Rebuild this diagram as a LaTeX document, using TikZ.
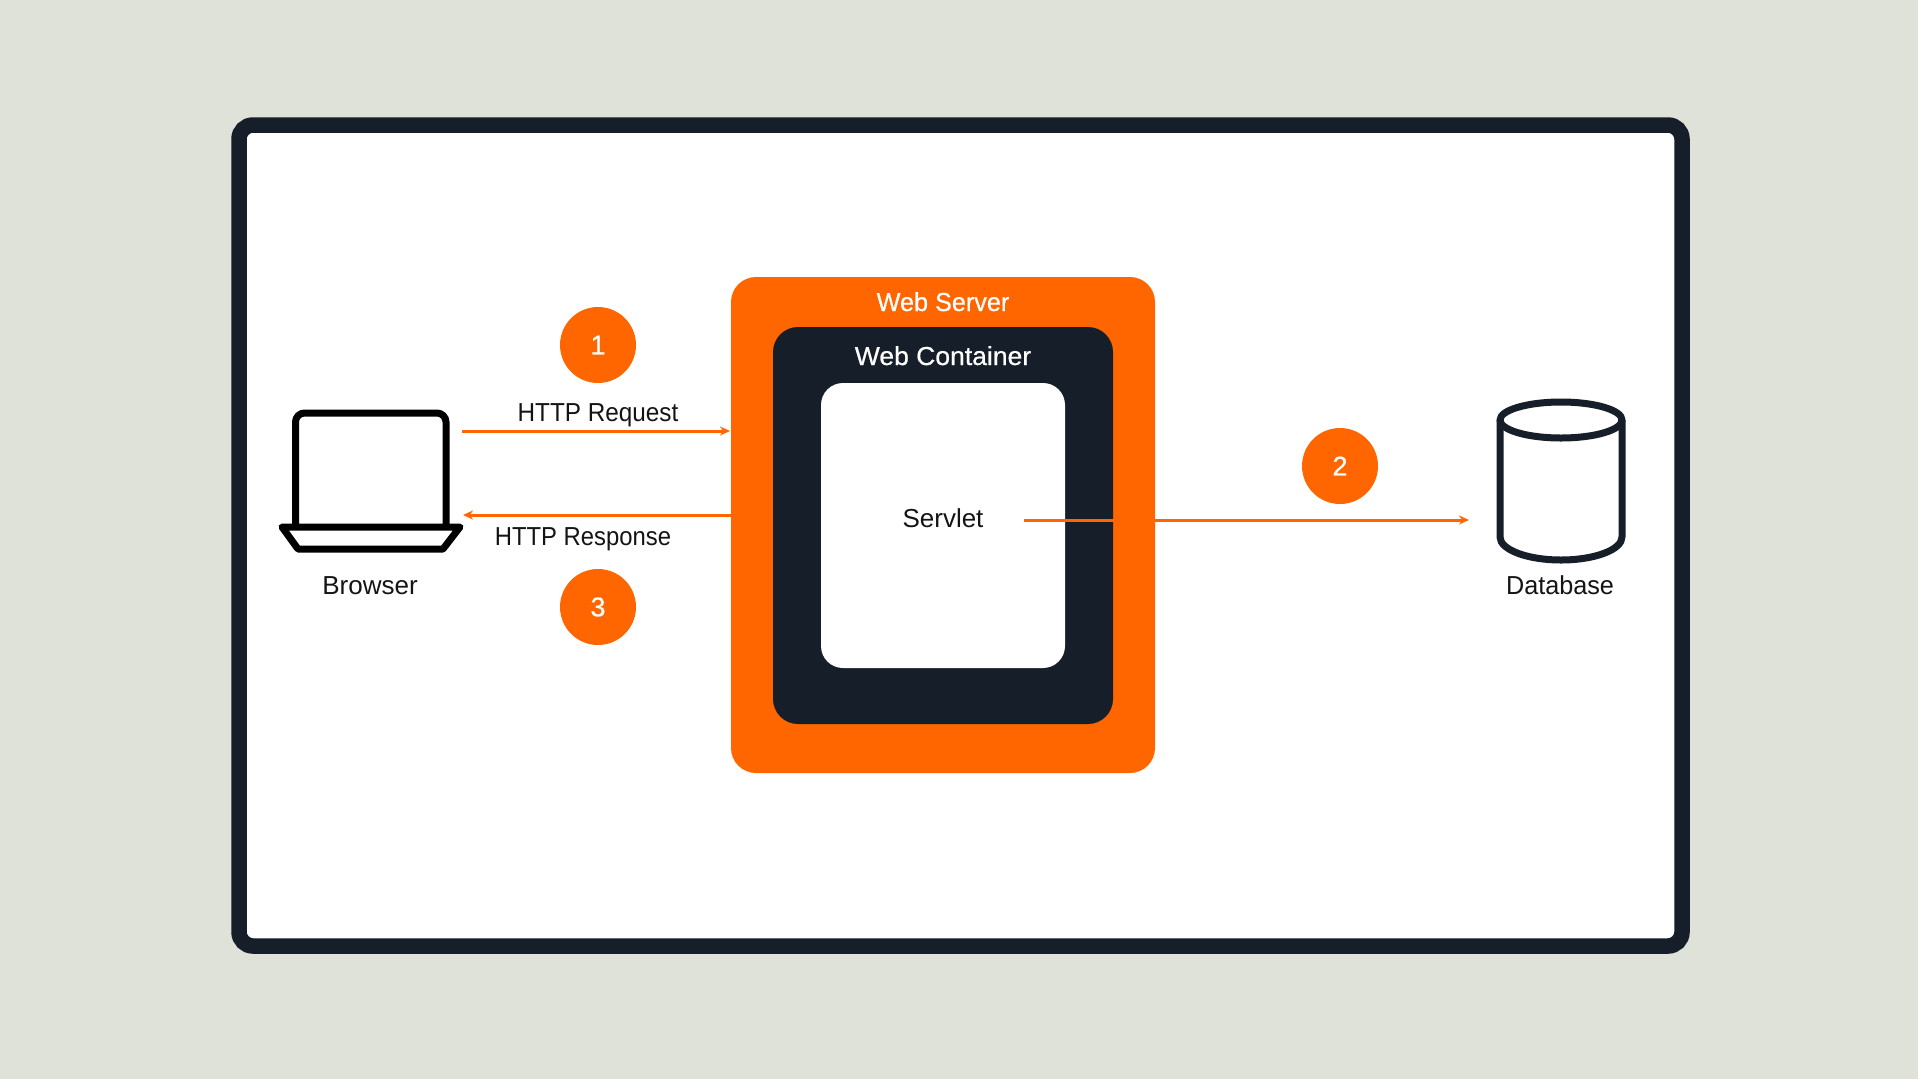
\documentclass[tikz,border=0pt]{standalone}
\usepackage{fontspec}
\setmainfont{Liberation Sans}
\usetikzlibrary{arrows.meta}
\definecolor{bgc}{RGB}{222,226,217}
\definecolor{navy}{RGB}{22,30,42}
\definecolor{orng}{RGB}{255,102,0}
\tikzset{
  box/.style={inner sep=0pt,outer sep=0pt,anchor=north west},
  lbl/.style={anchor=base,inner sep=0pt,font=\fontsize{26}{30}\selectfont,text=black!92},
  wlbl/.style={lbl,text=white,font=\fontsize{26}{30}\selectfont\addfontfeature{FakeBold=0.6}},
  badge/.style={circle,fill=orng,draw=none,inner sep=0pt,minimum size=76pt,text=white,font=\fontsize{27}{30}\selectfont\addfontfeature{FakeBold=0.6}},
  flow/.style={draw=orng,line width=3pt,-{Stealth[length=10pt,width=9pt]}},
  icon/.style={line width=7pt,line join=round,fill=white}
}
\begin{document}
\begin{tikzpicture}[x=1pt,y=-1pt]
\useasboundingbox (0,0) rectangle (1918,1079);
\fill[bgc] (0,0) rectangle (1918,1079);
% frame
\draw[navy,line width=15.5pt,fill=white,rounded corners=14pt] (239,125) rectangle (1682,946);
% nested boxes
\node[box,fill=orng,rounded corners=25pt,minimum width=424pt,minimum height=496pt] (webserver) at (731,277) {};
\node[box,fill=navy,rounded corners=25pt,minimum width=340pt,minimum height=397pt] (container) at (773,327) {};
\node[box,fill=white,rounded corners=22pt,minimum width=244pt,minimum height=285pt] (servlet) at (821,383) {};
\node[wlbl,xscale=.97] (wslabel) at (943,311) {Web Server};
\node[wlbl,xscale=1.02] (wclabel) at (943,365) {Web Container};
\node[lbl] (svlabel) at (943,527) {Servlet};
% browser icon
\draw[icon,draw=black,rounded corners=9pt] (295.5,527) -- (295.5,413) -- (446,413) -- (446,527);
\draw[icon,draw=black] (282,527) -- (460,527) -- (443,549) -- (298,549) -- cycle;
\node[lbl] (browser) at (370,594) {Browser};
% database icon
\draw[icon,draw=navy] (1500,420) -- (1500,537) arc[start angle=180,end angle=360,x radius=61,y radius=-23] -- (1622,420);
\draw[icon,draw=navy] (1561,420) ellipse[x radius=61,y radius=18];
\node[lbl,xscale=.97] (database) at (1560,594) {Database};
% connectors
\coordinate (reqs) at (462,431);
\coordinate (reqe) at (730,431);
\coordinate (ress) at (731,515);
\coordinate (rese) at (463,515);
\coordinate (svs) at (1024,520);
\coordinate (dbe) at (1469,520);
\draw[flow] (reqs) -- (reqe);
\draw[flow] (ress) -- (rese);
\draw[flow] (svs) -- (dbe);
% labels
\node[lbl,xscale=.935] (reqlabel) at (598,421) {HTTP Request};
\node[lbl,xscale=.917] (reslabel) at (583,545) {HTTP Response};
\node[badge] (one) at (598,345) {1};
\node[badge] (three) at (598,607) {3};
\node[badge] (two) at (1340,466) {2};
\end{tikzpicture}
\end{document}
